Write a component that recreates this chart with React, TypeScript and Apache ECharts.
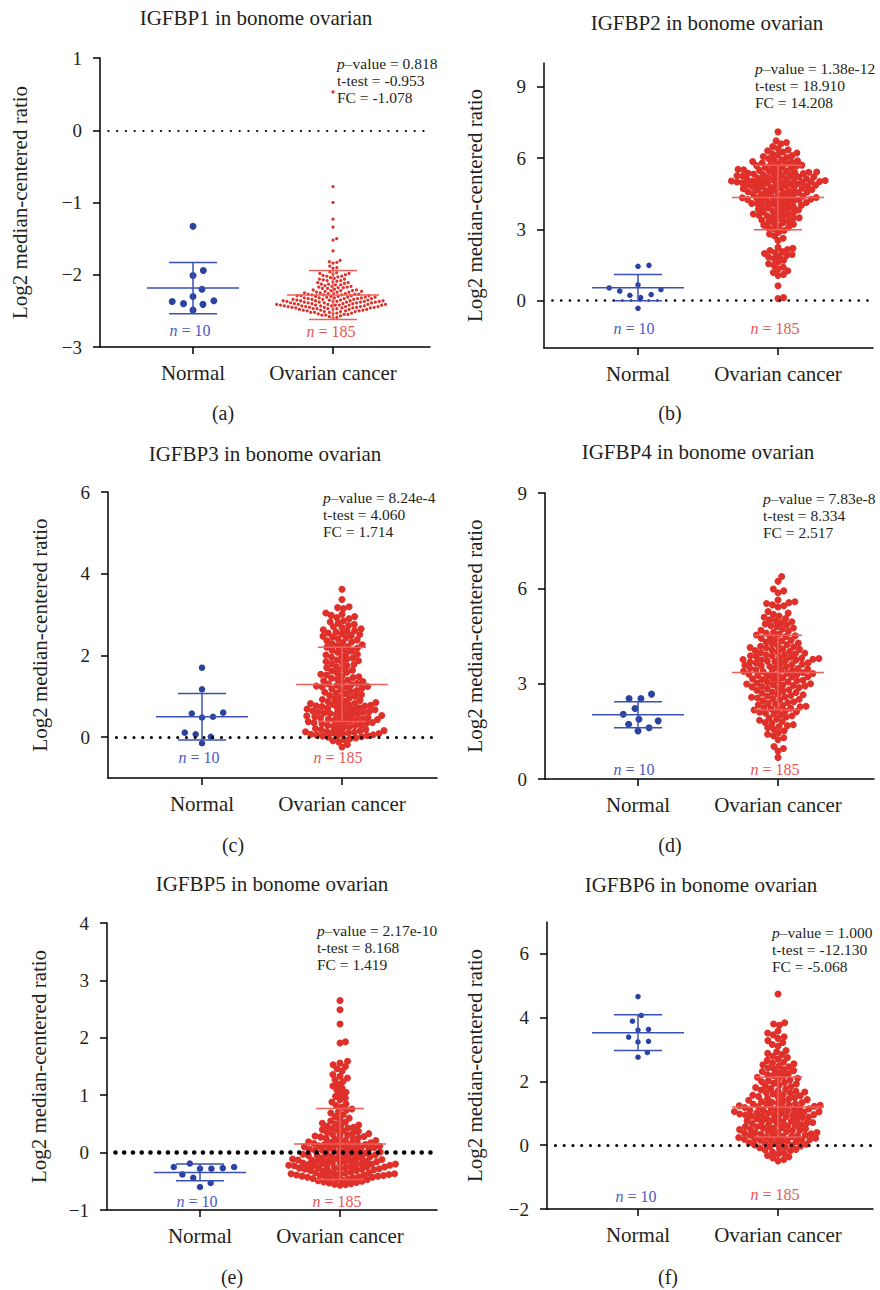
import React, { useEffect, useRef } from "react";
import * as echarts from "echarts";

// ---------------- data ----------------
const categories = ["Normal", "Ovarian cancer"];
const genes = ["IGFBP1", "IGFBP2", "IGFBP3", "IGFBP4", "IGFBP5", "IGFBP6"];
const datasetName = "in bonome ovarian";
const panelLetters = ["(a)", "(b)", "(c)", "(d)", "(e)", "(f)"];
const yAxisName = "Log2 median-centered ratio";
const pValues = ["0.818", "1.38e-12", "8.24e-4", "7.83e-8", "2.17e-10", "1.000"];
const tTests = ["-0.953", "18.910", "4.060", "8.334", "8.168", "-12.130"];
const foldChanges = ["-1.078", "14.208", "1.714", "2.517", "1.419", "-5.068"];
const normalN = [10, 10, 10, 10, 10, 10];
const cancerN = [185, 185, 185, 185, 185, 185];

const yMins = [-3, -2, -1, 0, -1, -2];
const yMaxs = [1, 10, 6, 9, 4, 7];
const yTicks = [
  [-3, -2, -1, 0, 1],
  [0, 3, 6, 9],
  [0, 2, 4, 6],
  [0, 3, 6, 9],
  [-1, 0, 1, 2, 3, 4],
  [-2, 0, 2, 4, 6],
];

const normalMean = [-2.185, 0.54, 0.5, 2.02, -0.345, 3.53];
const normalSD = [0.355, 0.55, 0.57, 0.41, 0.145, 0.56];
const cancerMean = [-2.28, 4.34, 1.29, 3.35, 0.15, 1.2];
const cancerSD = [0.34, 1.36, 0.91, 1.17, 0.62, 0.94];

const normalA = [-1.33, -1.94, -2.01, -2.2, -2.3, -2.36, -2.37, -2.4, -2.41, -2.49];
const cancerA = [
  -0.78, -1.0, -1.23, -1.34, -1.5, -1.52, -1.67, -1.8, -1.82, -1.83, -1.84, -1.88, -1.9, -1.91,
  -1.96, -1.97, -1.98, -1.98, -1.99, -2.0,
  -2.01, -2.02, -2.02, -2.03, -2.04, -2.05,
  -2.06, -2.06, -2.07, -2.08, -2.08, -2.09, -2.1,
  -2.11, -2.11, -2.12, -2.13, -2.13, -2.14, -2.14, -2.15,
  -2.16, -2.16, -2.17, -2.17, -2.18, -2.18, -2.19, -2.19, -2.2,
  -2.21, -2.21, -2.22, -2.22, -2.22, -2.23, -2.23, -2.24, -2.24, -2.24, -2.25, -2.25,
  -2.26, -2.26, -2.26, -2.27, -2.27, -2.27, -2.28, -2.28, -2.28, -2.29, -2.29, -2.29, -2.29, -2.3, -2.3, -2.3,
  -2.31, -2.31, -2.31, -2.31, -2.32, -2.32, -2.32, -2.32, -2.33, -2.33, -2.33, -2.33, -2.34, -2.34, -2.34, -2.34, -2.35, -2.35, -2.35, -2.35,
  -2.36, -2.36, -2.36, -2.36, -2.36, -2.37, -2.37, -2.37, -2.37, -2.37, -2.38, -2.38, -2.38, -2.38, -2.38, -2.39, -2.39, -2.39, -2.39, -2.39, -2.4, -2.4, -2.4, -2.4,
  -2.41, -2.41, -2.41, -2.41, -2.41, -2.42, -2.42, -2.42, -2.42, -2.42, -2.42, -2.43, -2.43, -2.43, -2.43, -2.43, -2.44, -2.44, -2.44, -2.44, -2.44, -2.45, -2.45, -2.45, -2.45, -2.45,
  -2.46, -2.46, -2.46, -2.46, -2.47, -2.47, -2.47, -2.47, -2.48, -2.48, -2.48, -2.48, -2.49, -2.49, -2.49, -2.5, -2.5, -2.5,
  -2.51, -2.51, -2.51, -2.52, -2.52, -2.52, -2.53, -2.53, -2.54, -2.54, -2.55, -2.55,
  -2.56, -2.56, -2.57, -2.58, -2.59, -2.6,
  0.53,
];

const normalB = [1.48, 1.44, 0.66, 0.53, 0.46, 0.4, 0.25, 0.22, 0.12, -0.33];
const cancerB = [
  7.1,
  6.72, 6.65, 6.6,
  6.48, 6.4, 6.35, 6.3, 6.25, 6.21,
  6.18, 6.15, 6.1, 6.06, 6.02, 5.98, 5.95, 5.92, 5.88, 5.85, 5.83, 5.8,
  5.78, 5.76, 5.73, 5.7, 5.68, 5.65, 5.62, 5.6, 5.57, 5.55, 5.52, 5.5, 5.48, 5.46, 5.44, 5.42, 5.41, 5.4,
  5.38, 5.36, 5.35, 5.33, 5.31, 5.3, 5.28, 5.26, 5.25, 5.23, 5.21, 5.2, 5.18, 5.16, 5.15, 5.13, 5.11, 5.1, 5.08, 5.07, 5.05, 5.04, 5.03, 5.02, 5.01, 5.0, 4.99,
  4.98, 4.97, 4.95, 4.94, 4.92, 4.9, 4.9, 4.88, 4.86, 4.85, 4.83, 4.81, 4.8, 4.78, 4.76, 4.74, 4.73, 4.71, 4.69, 4.67, 4.65, 4.63, 4.62, 4.6, 4.58, 4.56, 4.55, 4.53, 4.51, 4.49, 4.47, 4.45, 4.42,
  4.39, 4.37, 4.36, 4.34, 4.33, 4.31, 4.3, 4.28, 4.26, 4.25, 4.23, 4.21, 4.19, 4.17, 4.15, 4.13, 4.11, 4.09, 4.07, 4.05, 4.03, 4.01,
  3.98, 3.95, 3.92, 3.9, 3.87, 3.84, 3.81, 3.78, 3.76, 3.73, 3.7, 3.67, 3.64, 3.62, 3.59, 3.56, 3.53, 3.51, 3.48, 3.46,
  3.43, 3.39, 3.36, 3.32, 3.28, 3.25, 3.21, 3.17, 3.13, 3.09, 3.05, 3.01,
  2.95, 2.88, 2.8, 2.72, 2.62, 2.53,
  2.24, 2.2, 2.15, 2.1, 2.06, 2.02, 1.98, 1.94, 1.9, 1.86, 1.82, 1.77,
  1.7, 1.62, 1.55, 1.48, 1.4, 1.32, 1.25, 1.18, 1.1, 1.05,
  0.62, 0.12, 0.08,
];

const normalC = [1.7, 1.17, 0.6, 0.58, 0.5, 0.48, 0.11, 0.07, 0.01, -0.15];
const cancerC = [
  3.62, 3.37,
  3.19, 3.17, 3.15,
  3.04, 3.01, 2.98, 2.95, 2.93, 2.9,
  2.85, 2.82, 2.79, 2.76, 2.73, 2.7, 2.68, 2.65,
  2.63, 2.61, 2.59, 2.57, 2.55, 2.53, 2.51, 2.49, 2.47, 2.45,
  2.43, 2.4, 2.38, 2.36, 2.33, 2.31, 2.29, 2.26, 2.24, 2.22, 2.2, 2.18, 2.16,
  2.13, 2.11, 2.08, 2.06, 2.03, 2.01, 1.98, 1.96, 1.94, 1.91, 1.89, 1.87, 1.85,
  1.83, 1.8, 1.78, 1.75, 1.72, 1.7, 1.67, 1.64, 1.62, 1.59, 1.57, 1.54, 1.52, 1.5,
  1.48, 1.46, 1.44, 1.42, 1.4, 1.38, 1.36, 1.34, 1.32, 1.3, 1.29, 1.27, 1.25, 1.24, 1.23, 1.22, 1.2,
  1.18, 1.16, 1.14, 1.12, 1.1, 1.08, 1.06, 1.04, 1.02, 1.0, 0.98, 0.96, 0.94, 0.92, 0.9, 0.88, 0.87, 0.85,
  0.84, 0.83, 0.82, 0.8, 0.79, 0.78, 0.77, 0.76, 0.75, 0.74, 0.72, 0.71, 0.7, 0.69, 0.68, 0.67, 0.65, 0.64, 0.63, 0.62, 0.61, 0.6, 0.59, 0.58, 0.57, 0.56,
  0.54, 0.53, 0.52, 0.51, 0.5, 0.48, 0.47, 0.46, 0.45, 0.44, 0.43, 0.42, 0.41, 0.4, 0.38, 0.37, 0.36, 0.35, 0.34, 0.33, 0.32, 0.3, 0.29, 0.28, 0.26, 0.25, 0.23, 0.21,
  0.19, 0.18, 0.17, 0.16, 0.15, 0.14, 0.13, 0.12, 0.11, 0.1, 0.09, 0.08, 0.07, 0.06, 0.05, 0.04, 0.03, 0.02, 0.01, 0.0, -0.02, -0.04,
  -0.06, -0.09, -0.12, -0.18, -0.24,
];

const normalD = [2.67, 2.53, 2.53, 2.22, 2.04, 1.88, 1.83, 1.72, 1.61, 1.51];
const cancerD = [
  6.37, 6.22,
  5.98, 5.92, 5.86,
  5.63, 5.58, 5.55, 5.52, 5.48, 5.45, 5.41,
  5.27, 5.22, 5.18, 5.13, 5.09, 5.05, 5.01, 4.98,
  4.95, 4.92, 4.88, 4.85, 4.82, 4.79, 4.75, 4.72, 4.68, 4.65, 4.62, 4.59, 4.56, 4.53,
  4.51, 4.48, 4.45, 4.42, 4.4, 4.37, 4.34, 4.31, 4.28, 4.26, 4.23, 4.2, 4.18, 4.16, 4.14, 4.12,
  4.1, 4.08, 4.06, 4.04, 4.02, 4.0, 3.98, 3.96, 3.94, 3.92, 3.9, 3.88, 3.87, 3.85, 3.83, 3.82, 3.8, 3.79, 3.77, 3.76, 3.75, 3.74, 3.73, 3.71,
  3.7, 3.68, 3.66, 3.65, 3.63, 3.61, 3.6, 3.58, 3.56, 3.54, 3.53, 3.51, 3.49, 3.48, 3.46, 3.44, 3.43, 3.41, 3.39, 3.38, 3.36, 3.35, 3.33, 3.32, 3.3, 3.29, 3.28,
  3.26, 3.24, 3.22, 3.21, 3.19, 3.17, 3.15, 3.13, 3.11, 3.09, 3.08, 3.06, 3.04, 3.02, 3.0, 2.99, 2.97, 2.96, 2.94, 2.93, 2.91, 2.9, 2.88, 2.86,
  2.84, 2.81, 2.79, 2.77, 2.74, 2.72, 2.7, 2.67, 2.65, 2.63, 2.61, 2.59, 2.57, 2.55, 2.53, 2.51, 2.49, 2.46,
  2.43, 2.41, 2.38, 2.36, 2.33, 2.31, 2.29, 2.27, 2.25, 2.23, 2.21, 2.19, 2.17, 2.14, 2.12, 2.1, 2.07, 2.05, 2.02,
  1.99, 1.95, 1.92, 1.88, 1.85, 1.81, 1.78, 1.75, 1.71, 1.68, 1.65, 1.61,
  1.57, 1.52, 1.46, 1.41, 1.36, 1.3, 1.24,
  1.02, 0.96, 0.88, 0.68,
];

const normalE = [-0.19, -0.25, -0.25, -0.27, -0.28, -0.28, -0.38, -0.44, -0.53, -0.6];
const cancerE = [
  2.65, 2.49, 2.24, 1.93, 1.91,
  1.59, 1.56, 1.53, 1.5, 1.46, 1.42,
  1.36, 1.33, 1.3, 1.27, 1.24,
  1.19, 1.16, 1.12, 1.09, 1.05, 1.02, 0.98,
  0.95, 0.92, 0.88, 0.85, 0.82, 0.79, 0.76,
  0.74, 0.71, 0.69, 0.66, 0.63, 0.6, 0.58, 0.55, 0.53,
  0.51, 0.5, 0.48, 0.47, 0.46, 0.44, 0.43, 0.42, 0.4, 0.39, 0.38, 0.37, 0.35,
  0.34, 0.33, 0.32, 0.31, 0.3, 0.29, 0.28, 0.27, 0.26, 0.25, 0.24, 0.23, 0.22, 0.21, 0.2, 0.19, 0.18,
  0.17, 0.16, 0.16, 0.15, 0.14, 0.14, 0.13, 0.12, 0.12, 0.11, 0.1, 0.1, 0.09, 0.08, 0.08, 0.07, 0.06, 0.06, 0.05, 0.04, 0.04, 0.03, 0.02, 0.01, 0.0,
  -0.01, -0.01, -0.02, -0.03, -0.03, -0.04, -0.05, -0.05, -0.06, -0.07, -0.07, -0.08, -0.09, -0.09, -0.1, -0.11, -0.11, -0.12, -0.13, -0.13, -0.14, -0.14, -0.15, -0.15, -0.16, -0.16, -0.17,
  -0.18, -0.18, -0.19, -0.19, -0.2, -0.2, -0.21, -0.21, -0.22, -0.22, -0.23, -0.23, -0.24, -0.24, -0.25, -0.25, -0.26, -0.26, -0.27, -0.27, -0.28, -0.28, -0.29, -0.29, -0.3, -0.31, -0.31, -0.32, -0.33, -0.34,
  -0.35, -0.35, -0.36, -0.36, -0.37, -0.37, -0.38, -0.38, -0.39, -0.39, -0.4, -0.4, -0.41, -0.41, -0.42, -0.42, -0.43, -0.43, -0.44, -0.44, -0.45, -0.46, -0.46, -0.47, -0.48, -0.49, -0.5, -0.51,
  -0.52, -0.53, -0.54, -0.55, -0.56, -0.57,
];

const normalF = [4.66, 4.07, 3.89, 3.63, 3.61, 3.39, 3.26, 3.24, 2.91, 2.76];
const cancerF = [
  4.74,
  3.84, 3.8, 3.76,
  3.58, 3.52, 3.46, 3.4, 3.35, 3.28, 3.22, 3.16, 3.11,
  2.97, 2.93, 2.88, 2.84, 2.79, 2.75, 2.7, 2.66, 2.61, 2.58,
  2.55, 2.52, 2.49, 2.46, 2.43, 2.4, 2.37, 2.34, 2.31, 2.28, 2.25, 2.22, 2.19, 2.16,
  2.13, 2.1, 2.08, 2.05, 2.02, 2.0, 1.97, 1.94, 1.92, 1.89, 1.86, 1.84, 1.81, 1.78, 1.76, 1.73,
  1.71, 1.69, 1.67, 1.65, 1.63, 1.61, 1.59, 1.57, 1.55, 1.53, 1.51, 1.49, 1.47, 1.45, 1.43, 1.41, 1.39, 1.37, 1.35, 1.34, 1.32, 1.3,
  1.29, 1.28, 1.26, 1.25, 1.24, 1.22, 1.21, 1.2, 1.18, 1.17, 1.16, 1.14, 1.13, 1.12, 1.1, 1.09, 1.08, 1.06, 1.05, 1.04, 1.02, 1.01, 1.0, 0.99, 0.98, 0.97, 0.96, 0.95, 0.94, 0.92, 0.91, 0.9,
  0.88, 0.86, 0.85, 0.83, 0.82, 0.8, 0.79, 0.77, 0.76, 0.74, 0.73, 0.71, 0.7, 0.68, 0.67, 0.65, 0.64, 0.62, 0.61, 0.59, 0.58, 0.56, 0.55, 0.53, 0.52, 0.5, 0.49, 0.47, 0.46, 0.45,
  0.43, 0.42, 0.4, 0.39, 0.38, 0.36, 0.35, 0.34, 0.32, 0.31, 0.3, 0.28, 0.27, 0.26, 0.24, 0.23, 0.22, 0.2, 0.19, 0.18, 0.17, 0.16, 0.15, 0.14,
  0.12, 0.1, 0.08, 0.06, 0.05, 0.03, 0.01, 0.0, -0.02, -0.04, -0.06, -0.08, -0.1, -0.13, -0.15, -0.18,
  -0.21, -0.25, -0.28, -0.32, -0.36, -0.4, -0.45, -0.49,
];

const normalData = [normalA, normalB, normalC, normalD, normalE, normalF];
const cancerData = [cancerA, cancerB, cancerC, cancerD, cancerE, cancerF];

// ---------------- layout & style ----------------
const SERIF = '"Liberation Serif", "Times New Roman", serif';
const TEXT = "#231f20";
const BLUE = "#2a42a0";
const RED = "#e0302a";
const BLUE_LINE = "#3a50b5";
const RED_LINE = "#ee5f58";
const BLUE_TEXT = "#4a5bc2";
const RED_TEXT = "#e85555";
const CAT_PX = 140; // pixel distance between the two categories

const panels = [
  { left: 100, top: 58, width: 330, height: 289, catOff: 93, nameGap: 70, title: [256, 18], stats: [337, 63], letter: [223, 413], nN: [190, 330], nC: [331, 331], blue: 7, blueGap: 11.5, red: 3.2, redGap: 3.9, zeroDot: 2.2 },
  { left: 544, top: 63, width: 329, height: 285, catOff: 94, nameGap: 59, title: [707, 23], stats: [755, 68], letter: [670, 413], nN: [634, 328], nC: [775, 328], blue: 5.5, blueGap: 11, red: 7, redGap: 5.6, zeroDot: 2.6 },
  { left: 108, top: 492, width: 329, height: 286, catOff: 94, nameGap: 58, title: [265, 454], stats: [323, 497], letter: [233, 845], nN: [199, 757], nC: [338, 757], blue: 6.5, blueGap: 11, red: 7, redGap: 5.9, zeroDot: 3 },
  { left: 545, top: 493, width: 329, height: 286, catOff: 93, nameGap: 60, title: [698, 452], stats: [763, 498], letter: [670, 845], nN: [634, 769], nC: [775, 769], blue: 7, blueGap: 11.5, red: 7, redGap: 6.0, zeroDot: 0 },
  { left: 107, top: 923, width: 330, height: 287, catOff: 93, nameGap: 58, title: [272, 884], stats: [317, 930], letter: [232, 1277], nN: [197, 1201], nC: [337, 1201], blue: 6.5, blueGap: 11.4, red: 7, redGap: 5.6, zeroDot: 4.5 },
  { left: 547, top: 922, width: 326, height: 287, catOff: 91, nameGap: 62, title: [701, 885], stats: [772, 932], letter: [668, 1277], nN: [636, 1196], nC: [775, 1194], blue: 5.5, blueGap: 10.5, red: 7, redGap: 5.9, zeroDot: 3 },
];

// beeswarm: horizontal pixel offsets so dots do not overlap (computed from values)
function swarmOffsets(values: number[], diameter: number, pxPerUnit: number): number[] {
  const order = values.map((_, i) => i).sort((a, b) => values[a] - values[b]);
  const placed: { x: number; y: number }[] = [];
  const out = new Array(values.length).fill(0);
  const d2 = diameter * diameter;
  for (const i of order) {
    const y = values[i] * pxPerUnit;
    const near = placed.filter((p) => Math.abs(p.y - y) < diameter);
    const cands = [0];
    for (const p of near) {
      const dx = Math.sqrt(d2 - (p.y - y) * (p.y - y));
      cands.push(p.x + dx, p.x - dx);
    }
    cands.sort((a, b) => Math.abs(a) - Math.abs(b));
    let x = 0;
    for (const c of cands) {
      if (near.every((p) => (p.x - c) * (p.x - c) + (p.y - y) * (p.y - y) >= d2 - 1e-6)) {
        x = c;
        break;
      }
    }
    placed.push({ x, y });
    out[i] = x;
  }
  return out;
}

const fmtNum = (v: number) => String(v).replace("-", "\u2212");

function buildOption() {
  const grid: any[] = [];
  const xAxis: any[] = [];
  const yAxis: any[] = [];
  const series: any[] = [];
  const graphic: any[] = [];
  const axisLine = { color: "#000", width: 1.5 };

  panels.forEach((P, k) => {
    const xMin = 1 - P.catOff / CAT_PX;
    const xMax = xMin + P.width / CAT_PX;
    const pxPerUnit = P.height / (yMaxs[k] - yMins[k]);
    grid.push({ left: P.left, top: P.top, width: P.width, height: P.height });
    xAxis.push({
      gridIndex: k,
      type: "value",
      min: xMin,
      max: xMax,
      splitLine: { show: false },
      axisLine: { show: true, onZero: false, lineStyle: axisLine },
      axisTick: { show: true, customValues: [1, 2], length: 7, lineStyle: axisLine },
      axisLabel: {
        customValues: [1, 2],
        formatter: (v: number) => categories[Math.round(v) - 1],
        fontSize: 21,
        fontFamily: SERIF,
        color: TEXT,
        margin: 15,
      },
    });
    yAxis.push({
      gridIndex: k,
      type: "value",
      min: yMins[k],
      max: yMaxs[k],
      splitLine: { show: false },
      axisLine: { show: true, onZero: false, lineStyle: axisLine },
      axisTick: { show: true, customValues: yTicks[k], length: 7, lineStyle: axisLine },
      axisLabel: {
        customValues: yTicks[k],
        formatter: (v: number) => fmtNum(v),
        fontSize: 19,
        fontFamily: SERIF,
        color: TEXT,
        margin: 18,
      },
      name: yAxisName,
      nameLocation: "middle",
      nameGap: P.nameGap,
      nameTextStyle: { fontSize: 21, fontFamily: SERIF, color: TEXT },
    });

    const nOff = swarmOffsets(normalData[k], P.blueGap, pxPerUnit);
    const cOff = swarmOffsets(cancerData[k], P.redGap, pxPerUnit);

    const cancerSeries: any = {
      type: "scatter",
      xAxisIndex: k,
      yAxisIndex: k,
      symbol: "circle",
      symbolSize: P.red,
      itemStyle: { color: RED, opacity: 1 },
      data: cancerData[k].map((v, i) => [2 + cOff[i] / CAT_PX, v]),
      z: 2,
      silent: true,
    };
    if (P.zeroDot > 0) {
      cancerSeries.markLine = {
        silent: true,
        symbol: ["none", "none"],
        label: { show: false },
        lineStyle: { type: [0.1, 8.65], cap: "round", width: P.zeroDot, color: "#000", opacity: 1 },
        data: [[{ coord: [xMin + 0.06, 0] }, { coord: [xMax, 0] }]],
        z: 5,
      };
    }
    series.push(cancerSeries);
    series.push({
      type: "scatter",
      xAxisIndex: k,
      yAxisIndex: k,
      symbol: "circle",
      symbolSize: P.blue,
      itemStyle: { color: BLUE, opacity: 1 },
      data: normalData[k].map((v, i) => [1 + nOff[i] / CAT_PX, v]),
      z: 2,
      silent: true,
    });
    series.push({
      type: "custom",
      xAxisIndex: k,
      yAxisIndex: k,
      silent: true,
      z: 6,
      encode: { x: 0, y: 1 },
      data: [
        [1, normalMean[k], normalSD[k]],
        [2, cancerMean[k], cancerSD[k]],
      ],
      renderItem: (params: any, api: any) => {
        const x = api.value(0);
        const m = api.value(1);
        const s = api.value(2);
        const c = api.coord([x, m]);
        const t = api.coord([x, m + s]);
        const b = api.coord([x, m - s]);
        const color = params.dataIndex === 0 ? BLUE_LINE : RED_LINE;
        const st = { stroke: color, lineWidth: 1.5 };
        return {
          type: "group",
          children: [
            { type: "line", shape: { x1: c[0] - 46, y1: c[1], x2: c[0] + 46, y2: c[1] }, style: st },
            { type: "line", shape: { x1: c[0] - 24, y1: t[1], x2: c[0] + 24, y2: t[1] }, style: st },
            { type: "line", shape: { x1: c[0] - 24, y1: b[1], x2: c[0] + 24, y2: b[1] }, style: st },
            { type: "line", shape: { x1: c[0], y1: t[1], x2: c[0], y2: b[1] }, style: st },
          ],
        };
      },
    });

    // texts
    graphic.push({
      type: "text",
      x: P.title[0],
      y: P.title[1],
      style: { text: `${genes[k]} ${datasetName}`, fontSize: 21, fontFamily: SERIF, fill: TEXT, align: "center", verticalAlign: "middle" },
    });
    const statLines = [`{i|p}\u2013value = ${pValues[k]}`, `t-test = ${tTests[k]}`, `FC = ${foldChanges[k]}`];
    statLines.forEach((t, j) => {
      graphic.push({
        type: "text",
        x: P.stats[0],
        y: P.stats[1] + j * 17,
        style: {
          text: t,
          fontSize: 15.5,
          fontFamily: SERIF,
          fill: TEXT,
          align: "left",
          verticalAlign: "middle",
          rich: { i: { fontStyle: "italic", fontSize: 15.5, fontFamily: SERIF, fill: TEXT } },
        },
      });
    });
    graphic.push({
      type: "text",
      x: P.nN[0],
      y: P.nN[1],
      style: {
        text: `{i|n} = ${normalN[k]}`,
        fontSize: 16,
        fontFamily: SERIF,
        fill: BLUE_TEXT,
        align: "center",
        verticalAlign: "middle",
        rich: { i: { fontStyle: "italic", fontSize: 16, fontFamily: SERIF, fill: BLUE_TEXT } },
      },
    });
    graphic.push({
      type: "text",
      x: P.nC[0],
      y: P.nC[1],
      style: {
        text: `{i|n} = ${cancerN[k]}`,
        fontSize: 16,
        fontFamily: SERIF,
        fill: RED_TEXT,
        align: "center",
        verticalAlign: "middle",
        rich: { i: { fontStyle: "italic", fontSize: 16, fontFamily: SERIF, fill: RED_TEXT } },
      },
    });
    graphic.push({
      type: "text",
      x: P.letter[0],
      y: P.letter[1],
      style: { text: panelLetters[k], fontSize: 20, fontFamily: SERIF, fill: TEXT, align: "center", verticalAlign: "middle" },
    });
  });

  return {
    animation: false,
    backgroundColor: "#ffffff",
    grid,
    xAxis,
    yAxis,
    series,
    graphic,
  };
}

export default function App() {
  const ref = useRef<HTMLDivElement>(null);
  useEffect(() => {
    if (!ref.current) return;
    const chart = echarts.init(ref.current, undefined, { renderer: "svg" });
    chart.setOption(buildOption() as any);
    return () => chart.dispose();
  }, []);
  return (
    <div
      ref={ref}
      style={{ position: "absolute", left: 0, top: 0, width: 880, height: 1290, background: "#fff" }}
    />
  );
}
